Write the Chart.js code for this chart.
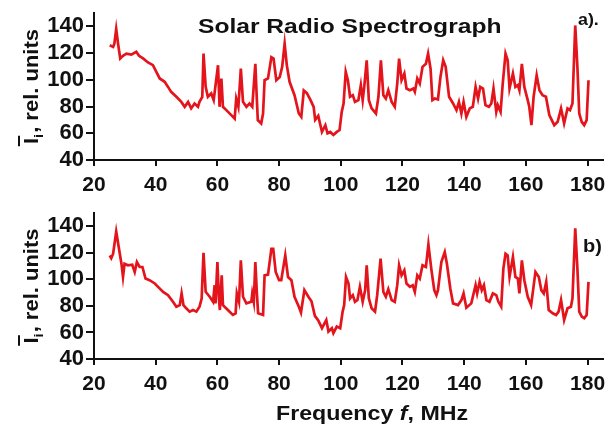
<!DOCTYPE html>
<html>
<head>
<meta charset="utf-8">
<script src="https://cdn.jsdelivr.net/npm/chart.js"></script>
<style>
  body { margin: 0; background: #fff; width: 616px; height: 425px; overflow: hidden; position: relative; }
  #boxA { position: absolute; left: 0; top: 0; width: 616px; height: 200px; }
  #boxB { position: absolute; left: 0; top: 200px; width: 616px; height: 225px; }
</style>
</head>
<body>
<div id="boxA"><canvas id="chartA" width="616" height="200"></canvas></div>
<div id="boxB"><canvas id="chartB" width="616" height="225"></canvas></div>
<script>
// panel a) - frequency (MHz) and relative intensity
const freqA = [25.1, 26.2, 26.6, 27.2, 27.8, 28.5, 29.4, 30.5, 32.1, 33.7, 34.6, 35.9, 37.5, 39.1, 40.2, 41.3, 42.9, 44, 45, 46.7,
  48.3, 49.4, 50.5, 51.5, 52.6, 53.7, 54.2, 55.1, 55.5, 56.2, 56.9, 58, 58.8, 59.4, 60.2, 60.7, 61.3, 61.8, 62.9, 64.5,
  65.6, 66.1, 66.8, 67.6, 68.3, 69.4, 70.4, 71.3, 72.3, 72.8, 73.1, 74.2, 74.8, 75.3, 76.4, 77.5, 78.2, 79.1, 80.2, 81,
  81.8, 82.5, 83.4, 85, 86.4, 87.2, 88, 89, 90.2, 91.2, 91.7, 92.7, 93.9, 95, 95.7, 96.6, 97.6, 98.7, 99.6, 100.3,
  100.9, 101.6, 102.3, 103, 103.9, 104.6, 105.7, 106.5, 107.1, 107.6, 108.4, 109.1, 110, 111.4, 112.2, 113, 113.8, 114.6, 115.4, 116.5,
  117.5, 118.3, 118.9, 119.7, 120.6, 121.3, 122.4, 123.5, 124, 124.8, 125.6, 126.5, 127.6, 128.3, 129.1, 129.7, 130.5, 131.5, 132.3, 133.2,
  134, 135.1, 136.4, 137.5, 138.3, 139.1, 139.8, 140.7, 141.8, 142.8, 143.7, 144.5, 145.2, 146.1, 146.9, 148, 148.8, 149.5, 150.4, 150.9,
  151.8, 152.5, 153.4, 154.1, 154.7, 155.8, 156.6, 157.4, 157.9, 158.7, 159.5, 160.6, 161.1, 161.8, 162.5, 163.5, 164.4, 165.4, 166.5, 167.6,
  169.2, 170.3, 171.4, 172.4, 173.5, 174.3, 175.1, 176, 176.7, 177.3, 178.1, 178.9, 179.7, 180.3];
const valA = [125.8, 124.6, 127, 138, 127, 116, 118, 119.6, 118.9, 121, 118, 116, 113, 111, 106, 101, 98.5, 94.7, 91, 87.3,
  83.5, 79.8, 83.5, 78.6, 82.3, 79.8, 83.5, 87.3, 119.6, 94.7, 87.3, 89.8, 84.8, 96, 110.9, 79.8, 101, 79.8, 77.3, 73.6,
  71, 86, 79.8, 108.4, 83.5, 79.8, 82.3, 79.8, 112, 84.8, 69.9, 67.4, 74.8, 99.7, 101, 117, 116, 99.7, 102, 109.7,
  127, 111, 98.5, 88.5, 74.8, 72.3, 92, 90, 84.8, 79.8, 70, 73, 61, 66, 60, 61, 58.7, 61, 62.4, 76,
  82.3, 106, 99.7, 87.3, 88.5, 83.5, 84.8, 96, 84.8, 94.7, 114.6, 84.8, 78.6, 74.8, 87.3, 114.6, 88.5, 86, 92.2, 83.5,
  79.8, 97.2, 115.9, 99.7, 104.7, 93.5, 92.2, 93.5, 91, 101, 97.2, 109.7, 112, 119.6, 108.4, 84.8, 86, 85.3, 102, 114.6,
  109.7, 87.3, 82.3, 77.3, 83.5, 74.8, 83.5, 72.3, 78.6, 79.8, 94.7, 86, 94.7, 93.5, 81, 79.8, 82.3, 93.5, 76, 81,
  76, 97.2, 119.6, 114.6, 93.5, 104.7, 94.7, 96, 92.2, 112, 94.7, 84.8, 79.8, 66.1, 87.3, 103.4, 92.2, 88.5, 87.3, 73.6,
  66.1, 68.6, 78.6, 67.4, 78.6, 77.3, 82.3, 140.7, 109.7, 74.8, 68.6, 66.1, 69.9, 99.7];

// panel b)
const freqB = [25.1, 25.6, 26.2, 27.2, 28.1, 28.9, 29.4, 29.9, 31, 32.4, 33.2, 33.9, 34.8, 35.7, 36.7, 38, 39.7, 41.1, 42.4, 44,
  45.6, 46.7, 47.8, 48.4, 49, 49.9, 51, 52.1, 53.2, 54.2, 54.9, 55.5, 56.2, 57.5, 58.6, 59.1, 59.4, 60, 60.5, 60.8,
  61.4, 61.8, 63.4, 65, 65.9, 66.3, 67, 67.6, 68.3, 69.4, 71, 71.3, 71.8, 72.3, 72.8, 73.2, 74.8, 75.3, 76.4, 77.5,
  78.1, 78.9, 80, 80.7, 82, 82.9, 84, 85, 86.4, 87.1, 88.2, 89.5, 90.5, 91.6, 92.7, 93.9, 95.3, 96, 97.1, 97.6,
  98.7, 99.8, 100.6, 101.1, 101.7, 102.5, 103, 103.9, 104.6, 105.4, 106.2, 107.1, 107.9, 108.4, 109.1, 110, 111.1, 111.8, 112.9, 113.8,
  114.6, 115.4, 116.5, 117.5, 118.3, 118.9, 119.7, 120.6, 121.3, 122.4, 123.3, 124, 124.8, 125.6, 126.5, 127.6, 128.4, 129.4, 130.3, 131,
  131.5, 132.6, 133.7, 134.4, 135.5, 136.4, 138, 139.1, 139.8, 140.7, 142.3, 143.7, 144.2, 145, 145.7, 146.4, 147.2, 148.2, 149.3, 150.4,
  151.1, 152, 152.7, 153.4, 154.1, 154.7, 155.8, 156.6, 157.4, 157.9, 158.7, 159.5, 160.6, 161.7, 162.2, 163.1, 164.2, 165, 165.8, 166.6,
  167.4, 168.7, 169.8, 170.6, 171.4, 172.4, 173.5, 174.6, 175.1, 176, 176.7, 177.3, 178.1, 178.9, 179.7, 180.3];
const valB = [118, 116, 119.3, 136, 123, 111.8, 101.8, 111.8, 110.6, 111, 105.6, 113, 109.3, 109.3, 100.6, 99.4, 96.9, 93.6, 90.6, 88.1,
  83.1, 79.4, 80.6, 89.4, 80.6, 78.2, 75.7, 76.9, 75.7, 79.4, 85.6, 120, 90.6, 86.9, 83.1, 95.6, 81.9, 113, 85.6, 76.9,
  103, 80.6, 76.9, 73.2, 74.4, 89.4, 83.1, 114.3, 86.9, 81.9, 83.1, 89.4, 83.1, 113, 89.4, 74.4, 73.2, 103, 103.6, 123,
  123, 105.6, 99.4, 99.4, 118, 101.8, 99.4, 86.9, 79.4, 75, 91.9, 86.9, 83.5, 72.5, 69, 63.2, 69.4, 60.7, 63.2, 59.5,
  64.4, 63.2, 75.7, 80.6, 101.8, 96.9, 85.6, 88.1, 83.1, 84.4, 94.4, 83.1, 91.9, 110.6, 85.6, 78.2, 75.7, 88.1, 115.6, 90.6,
  86.9, 92.6, 84.4, 83.1, 95.6, 110.6, 103, 106.8, 96.9, 94.4, 95.6, 90.6, 103, 100.6, 110.6, 109.3, 126.3, 106.8, 91.9, 88.1,
  91.9, 113, 120.5, 111.8, 93.1, 81.9, 80.6, 84.4, 89.4, 78.6, 81.9, 95.6, 89.4, 98.1, 91.9, 95.6, 84.4, 83.1, 89.4, 88.1,
  83.1, 79.4, 108.1, 119.3, 118, 101.8, 116.8, 101.8, 100.6, 89.4, 114.3, 99.4, 86.9, 80.6, 89.4, 105.6, 101.8, 91.9, 89.4, 98.1,
  76.9, 74.4, 73.2, 75.7, 84.4, 69.4, 78.2, 79.4, 85.6, 138.5, 108.1, 75.7, 71.9, 70.7, 73.2, 98.1];

const xTickValues = [20, 40, 60, 80, 100, 120, 140, 160, 180];
const yTickValues = [40, 60, 80, 100, 120, 140];

const FAMILY = '"Liberation Sans", Arial, sans-serif';
const INK = '#111';
const RED = '#e3141b';

// text drawn a bit wider than the font, like the original figure
function wideText(ctx, text, x, y, size, sx) {
  ctx.save();
  ctx.font = 'bold ' + size + 'px ' + FAMILY;
  ctx.translate(x, y);
  ctx.scale(sx, 1);
  ctx.fillText(text, 0, 0);
  ctx.restore();
}

// rotated "I_i, rel. units" with a bar over the I
function yTitle(ctx, cx, cy) {
  const sx = 1.1;
  const big = 'bold 20px ' + FAMILY;
  const small = 'bold 13px ' + FAMILY;
  ctx.save();
  ctx.translate(cx, cy);
  ctx.rotate(-Math.PI / 2);
  ctx.scale(sx, 1);
  ctx.font = big;
  const wI = ctx.measureText('I').width;
  const rest = ', rel. units';
  const wr = ctx.measureText(rest).width;
  ctx.font = small;
  const wi = ctx.measureText('i').width;
  let x = -(wI + wi + 1 + wr) / 2;
  ctx.font = big;
  ctx.fillText('I', x, 0);
  ctx.fillRect(x - 2, -20, wI + 4, 2);
  x += wI;
  ctx.font = small;
  ctx.fillText('i', x, 5);
  x += wi + 1;
  ctx.font = big;
  ctx.fillText(rest, x, 0);
  ctx.restore();
}

const panelText = {
  id: 'panelText',
  afterDraw(chart, args, opts) {
    const ctx = chart.ctx;
    const area = chart.chartArea;
    ctx.save();
    ctx.fillStyle = INK;
    ctx.textBaseline = 'alphabetic';
    yTitle(ctx, 38, (area.top + area.bottom) / 2);
    if (opts.title) wideText(ctx, opts.title, 198, 33, 20, 1.23);
    wideText(ctx, opts.tag, opts.tagX, opts.tagY, opts.tagSize, 1.05);
    if (opts.xTitle) {
      // "Frequency f, MHz" with italic f
      const y = 220, sx = 1.16;
      let x = 276;
      ctx.save();
      ctx.translate(x, y);
      ctx.scale(sx, 1);
      let cur = 0;
      const parts = [['Frequency ', 'bold'], ['f', 'italic bold'], [', MHz', 'bold']];
      parts.forEach(p => {
        ctx.font = p[1] + ' 20px ' + FAMILY;
        ctx.fillText(p[0], cur, 0);
        cur += ctx.measureText(p[0]).width;
      });
      ctx.restore();
    }
    ctx.restore();
  }
};

function makeChart(id, freqs, vals, padTop, xHeight, textOpts) {
  const points = freqs.map((f, i) => ({ x: f, y: vals[i] }));
  return new Chart(document.getElementById(id), {
    type: 'line',
    data: {
      datasets: [{
        data: points,
        borderColor: RED,
        borderWidth: 2.7,
        pointRadius: 0,
        fill: false,
        tension: 0
      }]
    },
    options: {
      responsive: false,
      animation: false,
      layout: { padding: { top: padTop, right: 13, left: 0, bottom: 0 } },
      plugins: {
        legend: { display: false },
        tooltip: { enabled: false },
        panelText: textOpts
      },
      scales: {
        x: {
          type: 'linear',
          min: 20,
          max: 185,
          afterBuildTicks: s => { s.ticks = xTickValues.map(v => ({ value: v })); },
          afterFit: s => { s.height = xHeight; },
          ticks: { color: INK, padding: 7, maxRotation: 0, autoSkip: false,
                   font: { family: FAMILY, size: 21, weight: 'bold' } },
          grid: { drawOnChartArea: false, drawTicks: true, tickLength: 6, color: INK, lineWidth: 2 },
          border: { color: INK, width: 2 }
        },
        y: {
          min: 40,
          max: 150,
          afterBuildTicks: s => { s.ticks = yTickValues.map(v => ({ value: v })); },
          afterFit: s => { s.width = 94; },
          ticks: { color: INK, padding: 2,
                   font: { family: FAMILY, size: 22, weight: 'bold', lineHeight: 1 } },
          grid: { drawOnChartArea: false, drawTicks: true, tickLength: 8, color: INK, lineWidth: 2 },
          border: { color: INK, width: 2 }
        }
      }
    },
    plugins: [panelText]
  });
}

makeChart('chartA', freqA, valA, 12, 40,
  { title: 'Solar Radio Spectrograph', tag: 'a).', tagX: 578, tagY: 25, tagSize: 17, xTitle: false });
makeChart('chartB', freqB, valB, 9, 66,
  { title: null, tag: 'b)', tagX: 583, tagY: 52, tagSize: 19, xTitle: true });
</script>
</body>
</html>
